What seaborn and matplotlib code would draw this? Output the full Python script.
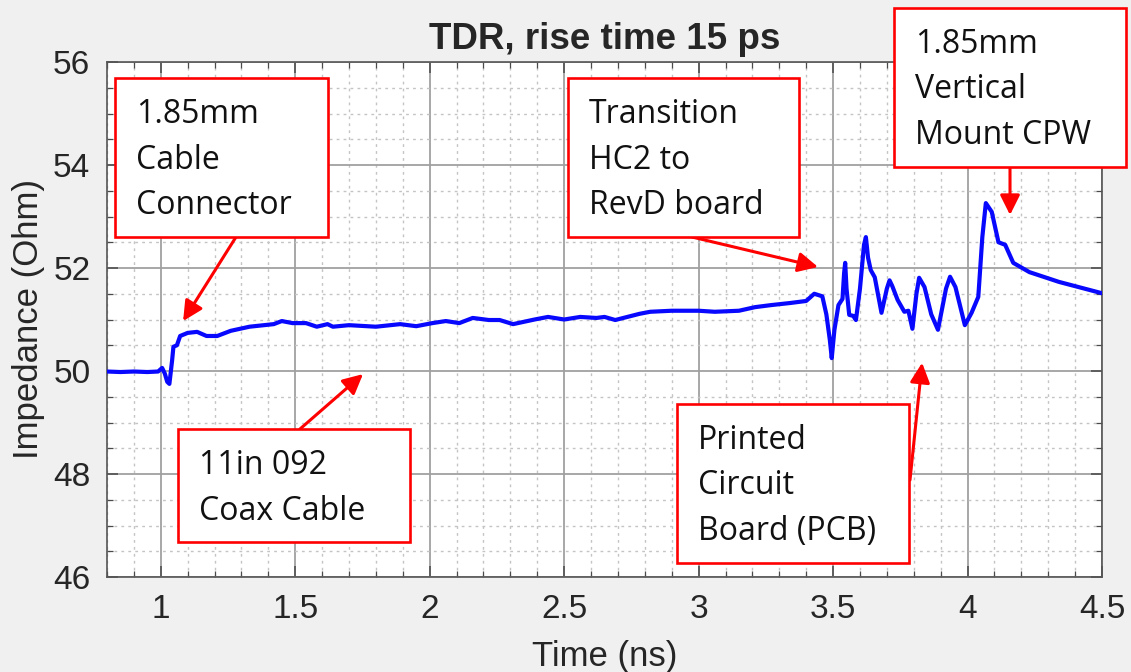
import numpy as np
import seaborn as sns
import matplotlib.pyplot as plt
from matplotlib.patches import Rectangle
from matplotlib.ticker import MultipleLocator, FormatStrFormatter

# TDR trace
time_ns = [0.80, 0.85, 0.90, 0.95, 0.99, 1.005, 1.015, 1.024, 1.032, 1.042, 1.047,
           1.06, 1.072, 1.10, 1.135, 1.17, 1.21, 1.26, 1.33, 1.42, 1.45, 1.49, 1.54,
           1.58, 1.62, 1.64, 1.70, 1.80, 1.89, 1.95, 2.01, 2.06, 2.11, 2.16, 2.22,
           2.26, 2.31, 2.39, 2.44, 2.50, 2.56, 2.62, 2.65, 2.69, 2.78, 2.82, 2.90,
           3.00, 3.06, 3.15, 3.21, 3.27, 3.34, 3.40, 3.43, 3.46, 3.475, 3.488, 3.495,
           3.505, 3.52, 3.535, 3.541, 3.545, 3.55, 3.56, 3.575, 3.585, 3.60, 3.615,
           3.622, 3.63, 3.64, 3.655, 3.68, 3.70, 3.71, 3.72, 3.74, 3.765, 3.78, 3.795,
           3.81, 3.82, 3.84, 3.865, 3.89, 3.92, 3.935, 3.955, 3.99, 4.015, 4.04,
           4.055, 4.068, 4.09, 4.115, 4.14, 4.17, 4.23, 4.34, 4.50]
impedance = [49.99, 49.98, 49.99, 49.98, 49.99, 50.06, 49.95, 49.79, 49.75, 50.20, 50.47,
             50.50, 50.68, 50.74, 50.76, 50.68, 50.68, 50.78, 50.86, 50.91, 50.97, 50.93, 50.93,
             50.86, 50.91, 50.86, 50.89, 50.86, 50.91, 50.87, 50.93, 50.97, 50.93, 51.03, 50.99,
             50.99, 50.91, 51.00, 51.05, 51.00, 51.05, 51.03, 51.05, 50.99, 51.11, 51.15, 51.17,
             51.17, 51.15, 51.17, 51.24, 51.28, 51.32, 51.36, 51.50, 51.45, 51.10, 50.60, 50.25,
             50.80, 51.28, 51.40, 51.90, 52.10, 51.60, 51.09, 51.07, 50.99, 51.60, 52.45,
             52.60, 52.20, 51.96, 51.82, 51.13, 51.60, 51.76, 51.65, 51.38, 51.15, 51.17, 50.82,
             51.50, 51.81, 51.63, 51.10, 50.80, 51.60, 51.83, 51.63, 50.89, 51.13, 51.44,
             52.60, 53.26, 53.09, 52.50, 52.45, 52.10, 51.92, 51.73, 51.51]

x_ticks = [1, 1.5, 2, 2.5, 3, 3.5, 4, 4.5]
y_ticks = [46, 48, 50, 52, 54, 56]

callout_text = [
    ["1.85mm", "Cable", "Connector"],
    ["11in 092", "Coax Cable"],
    ["Transition", "HC2 to", "RevD board"],
    ["Printed", "Circuit", "Board (PCB)"],
    ["1.85mm", "Vertical", "Mount CPW"],
]
# where each arrow points, in data units (time, impedance)
arrow_tips = [(1.083, 50.97), (1.752, 49.94), (3.444, 52.02), (3.831, 50.16), (4.158, 53.03)]

W, H = 1131, 672
sns.set_theme(style="ticks")
plt.rcParams['font.family'] = ['Liberation Sans', 'DejaVu Sans']

fig = plt.figure(figsize=(W / 100, H / 100), dpi=100, facecolor='#f0f0f0')
ax = fig.add_axes([107 / W, 1 - 577 / H, (1102 - 107) / W, (577 - 62) / H])
ax.set_facecolor('white')

sns.lineplot(x=time_ns, y=impedance, ax=ax, color='#0808ff', lw=3.0, zorder=3)

ax.set_xlim(0.8, 4.5)
ax.set_ylim(46, 56)
ax.set_xticks(x_ticks)
ax.set_yticks(y_ticks)
ax.xaxis.set_major_formatter(FormatStrFormatter('%g'))
ax.xaxis.set_minor_locator(MultipleLocator(0.1))
ax.yaxis.set_minor_locator(MultipleLocator(0.5))
ax.grid(which='major', color='#a0a0a0', lw=1.3, ls='-')
ax.grid(which='minor', color='#c4c4c4', lw=1.0, ls=(0, (2, 3)))
ax.tick_params(which='both', direction='in', top=True, right=True, color='#4a4a4a')
ax.tick_params(which='major', length=8, width=1.1, labelsize=24, labelcolor='#262626', pad=12)
ax.tick_params(which='minor', length=4, width=0.9)
for s in ax.spines.values():
    s.set_color('#555555')
    s.set_linewidth(1.2)

ax.set_title('TDR, rise time 15 ps', fontsize=26.5, fontweight='bold', pad=9)
ax.set_xlabel('Time (ns)', fontsize=25, color='#262626', labelpad=11)
ax.set_ylabel('Impedance (Ohm)', fontsize=25, color='#262626', labelpad=6)

# callout boxes: left, top, width in image pixels
boxes = [(115, 78, 213), (178, 429, 232), (568, 78, 231), (677, 404, 232), (894, 8, 232)]
tails = [(236, 237), (300, 429), (692, 237), (910, 480), (1010, 166)]

for (tip, tail) in zip(arrow_tips, tails):
    ax.annotate('', xy=tip, xycoords='data', xytext=(tail[0], H - tail[1]),
                textcoords='figure pixels', annotation_clip=False,
                arrowprops=dict(arrowstyle='-|>,head_length=0.6,head_width=0.3',
                                color='#ff0000', lw=2.2, mutation_scale=20,
                                shrinkA=0, shrinkB=0), zorder=4)

for (left, top, width), lines in zip(boxes, callout_text):
    height = 46 * len(lines) + 21
    fig.add_artist(Rectangle((left / W, 1 - (top + height) / H), width / W, height / H,
                             transform=fig.transFigure, facecolor='white',
                             edgecolor='#ff0000', lw=1.9, zorder=5))
    for i, line in enumerate(lines):
        fig.text((left + 21) / W, 1 - (top + 45 + 45.5 * i) / H, line,
                 family=['Open Sans', 'DejaVu Sans'], fontsize=23,
                 color='#111111', va='baseline', ha='left', zorder=6)

fig.savefig('out.png', dpi=100, facecolor=fig.get_facecolor())
